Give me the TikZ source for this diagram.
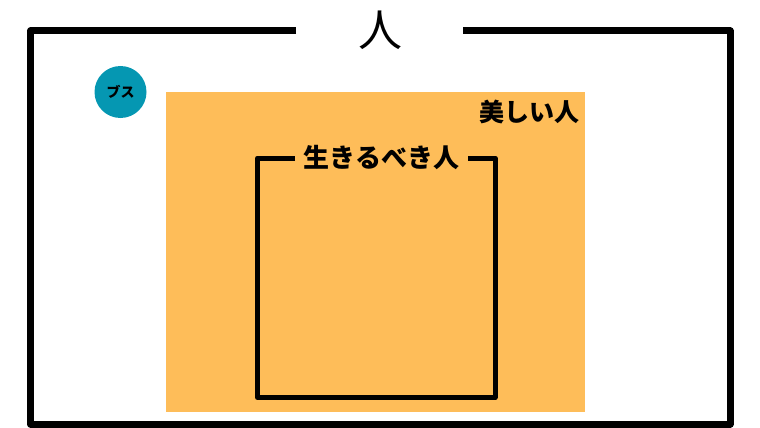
\documentclass[tikz,border=0pt]{standalone}
\usepackage{fontspec}
\newfontfamily\cjk{Noto Sans CJK JP}
\usepackage{tikz}
\usetikzlibrary{positioning}
\definecolor{beautyorange}{HTML}{FEBD59}
\definecolor{busuteal}{HTML}{0597B2}

\begin{document}
\begin{tikzpicture}[x=1pt, y=-1pt, font=\cjk,
    label/.style={inner sep=0pt, font=\cjk\bfseries\fontsize{25}{25}\selectfont}]
    \useasboundingbox (0,0) rectangle (760,428);

    % Outer frame
    \node[inner sep=0pt, font=\cjk\fontsize{44}{44}\selectfont] (human) at (380,30) {人};
    \draw[line width=7pt, line join=round] (296,31) -- (30.5,31) -- (30.5,424) -- (730,424) -- (730,31) -- (463,31);

    % Beautiful
    \fill[beautyorange] (166,92) rectangle (585,412);
    \node[label, anchor=east] (beauty) at (579.5,112) {美しい人};

    % Worth living
    \node[label, font=\cjk\bfseries\fontsize{26}{26}\selectfont] (living) at (381.5,158) {生きるべき人};
    \draw[line width=5pt, line join=round] (295,158) -- (257.5,158) -- (257.5,397.5) -- (495,397.5) -- (495,158) -- (468,158);

    % Busu
    \node[circle, fill=busuteal, minimum size=52pt, inner sep=0pt,
          font=\cjk\bfseries\fontsize{14}{14}\selectfont] (busu) at (120.5,92) {ブス};
\end{tikzpicture}
\end{document}
